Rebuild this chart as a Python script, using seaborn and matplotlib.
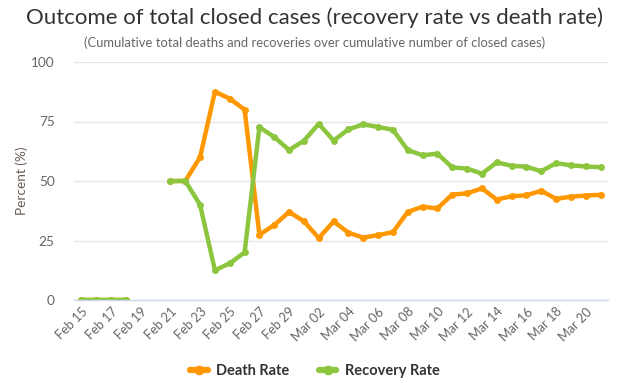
import numpy as np
import pandas as pd
import matplotlib
matplotlib.use("Agg")
import matplotlib.pyplot as plt
import seaborn as sns
from matplotlib.lines import Line2D

# =========================
# Data
# =========================
dates = (["Feb %02d" % d for d in range(15, 30)] +
         ["Mar %02d" % d for d in range(1, 22)])

death_rate = [0, 0, 0, 0, np.nan, np.nan, 50, 50, 60, 87.5, 84.6, 80, 27.4,
              31.5, 37, 33.1, 26, 33, 28.3, 26.2, 27.3, 28.5, 37, 39.2, 38.5,
              44.3, 44.8, 46.9, 42.2, 43.6, 44, 45.9, 42.5, 43.4, 43.9, 44.2]
recovery_rate = [0, 0, 0, 0, np.nan, np.nan, 50, 50, 40, 12.5, 15.4, 20, 72.6,
                 68.5, 63, 66.9, 74, 67, 71.7, 73.8, 72.7, 71.5, 63, 60.8, 61.5,
                 55.7, 55.2, 53.1, 57.8, 56.4, 56, 54.1, 57.5, 56.6, 56.1, 55.8]

series_names = ["Death Rate", "Recovery Rate"]
colors = ["#ff9800", "#8cc63f"]

# =========================
# Long table, split into runs at the gaps
# =========================
rows = []
for name, vals in zip(series_names, [death_rate, recovery_rate]):
    seg = 0
    for i, v in enumerate(vals):
        if np.isnan(v):
            seg += 1
            continue
        rows.append({"idx": i, "value": v, "series": name, "seg": seg})
df = pd.DataFrame(rows)

# =========================
# Plot
# =========================
sns.set_style("white")
plt.rcParams["font.family"] = ["Lato", "DejaVu Sans"]

fig = plt.figure(figsize=(6.3, 3.85), dpi=100)
ax = fig.add_axes([74 / 630, 1 - 300 / 385, 534 / 630, 238 / 385])

sns.lineplot(data=df, x="idx", y="value", hue="series", units="seg",
             estimator=None, hue_order=series_names, palette=colors,
             marker="o", markersize=5, markeredgewidth=0, linewidth=3.2,
             legend=False, ax=ax)

ax.set_xlim(-0.5, len(dates) - 0.5)
ax.set_ylim(0, 100)
ax.set_yticks([0, 25, 50, 75, 100])
ax.set_xticks(range(0, len(dates), 2))
ax.set_xticklabels(dates[::2], rotation=45, ha="right", rotation_mode="anchor")
ax.tick_params(axis="x", colors="#666666", labelsize=9.2, length=0, pad=4)
ax.tick_params(axis="y", colors="#666666", labelsize=9.8, length=0, pad=14)
ax.set_xlabel("")
ax.set_ylabel("Percent (%)", color="#6b5a55", fontsize=9.8, labelpad=2)

ax.grid(axis="y", color="#e6e6e6", linewidth=1)
ax.set_axisbelow(True)
for side in ["top", "right", "left"]:
    ax.spines[side].set_visible(False)
ax.spines["bottom"].set_color("#ccd6eb")
ax.spines["bottom"].set_linewidth(1)

fig.text(0.5, 1 - 18 / 385, "Outcome of total closed cases (recovery rate vs death rate)",
         ha="center", va="center", fontsize=16, color="#333333")
fig.text(0.5, 1 - 43 / 385,
         "(Cumulative total deaths and recoveries over cumulative number of closed cases)",
         ha="center", va="center", fontsize=9.4, color="#666666")

handles = [Line2D([], [], color=c, linewidth=4.5, marker="o", markersize=6)
           for c in colors]
fig.legend(handles, series_names, loc="center", bbox_to_anchor=(0.5, 1 - 371 / 385),
           ncol=2, frameon=False, handlelength=1.2, handletextpad=0.6,
           columnspacing=2.0, prop={"weight": "bold", "size": 10.5},
           labelcolor="#333333")

fig.savefig("out.png", dpi=100)
